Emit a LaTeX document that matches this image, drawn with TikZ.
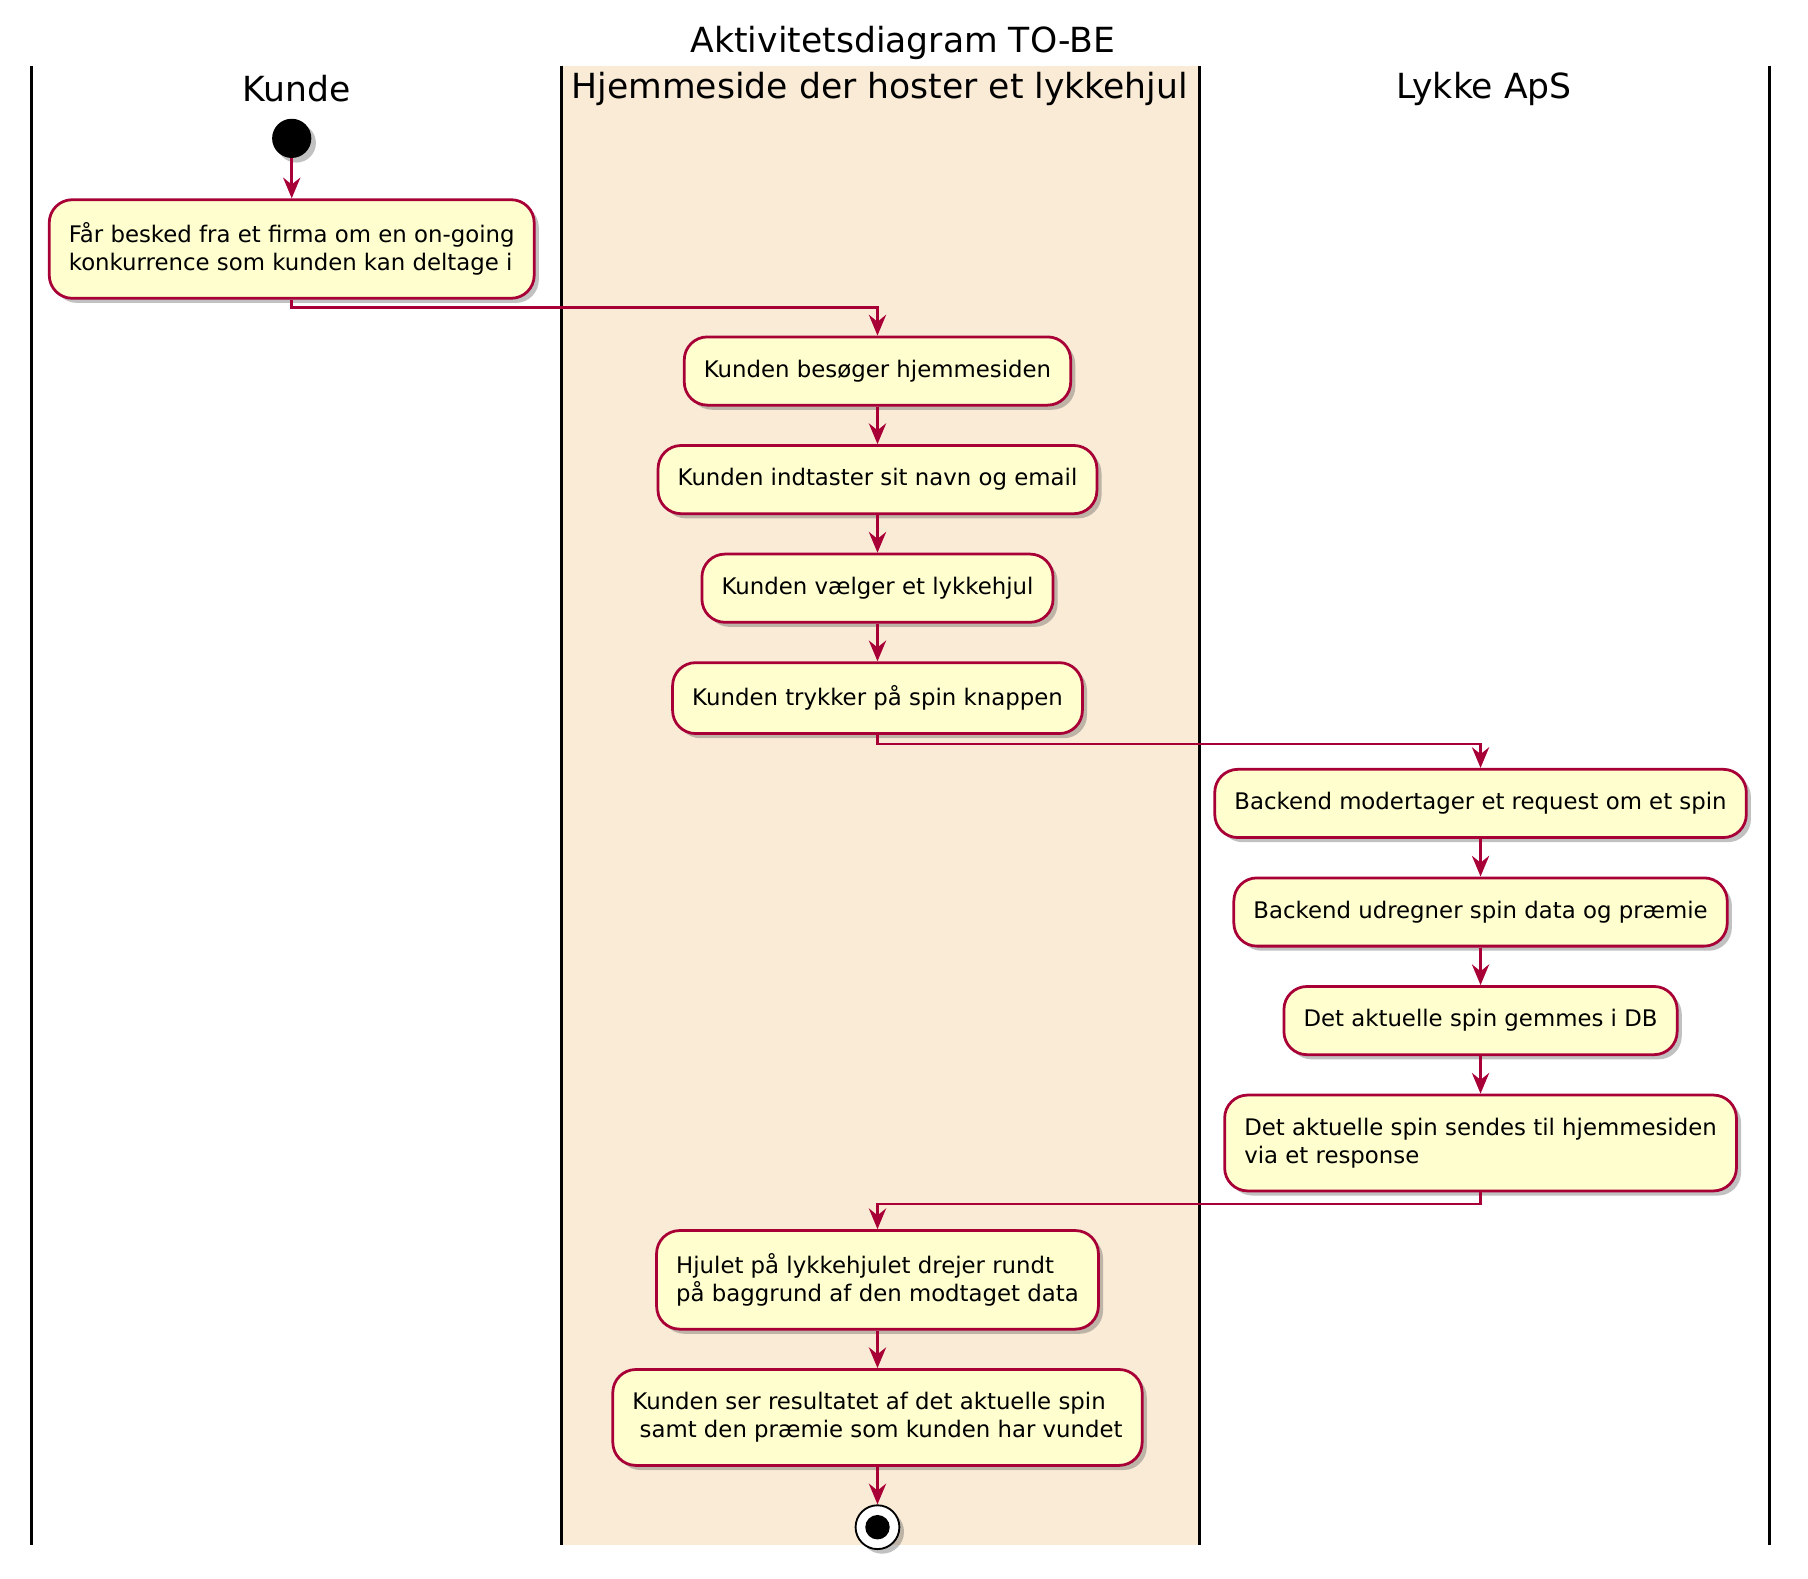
\documentclass[tikz,border=0pt]{standalone}
\usepackage{fontspec}
\setmainfont{DejaVu Sans}
\usetikzlibrary{positioning,shadows,arrows.meta}
\definecolor{umlred}{HTML}{A80036}
\definecolor{umlfill}{HTML}{FEFECE}
\definecolor{lanefill}{HTML}{FAEBD7}
\tikzset{
  activity/.style={draw=umlred, fill=umlfill, line width=1.2pt, rounded corners=10pt,
    align=left, inner xsep=8.5pt, inner ysep=10pt, minimum height=29.5pt,
    font=\fontsize{9.9}{12}\selectfont,
    drop shadow={shadow xshift=2pt, shadow yshift=-2pt, opacity=0.35, fill=black!70}},
  flow/.style={draw=umlred, line width=1.1pt, -{Stealth[length=9pt,width=7.5pt,inset=3pt]}},
  lane/.style={line width=1.3pt},
  lanehead/.style={font=\fontsize{15}{17}\selectfont},
  startnode/.style={circle, fill=black, minimum size=17pt, inner sep=0pt,
    drop shadow={shadow xshift=2pt, shadow yshift=-2pt, opacity=0.35, fill=black!70}},
  endnode/.style={circle, draw=black, line width=0.8pt, fill=white, minimum size=19pt, inner sep=0pt,
    path picture={\fill[black] (path picture bounding box.center) circle (5.3pt);},
    drop shadow={shadow xshift=2pt, shadow yshift=-2pt, opacity=0.35, fill=black!70}}
}
\begin{document}
\begin{tikzpicture}[x=0.5pt, y=-0.5pt, node distance=16.3pt]
  \useasboundingbox (0,0) rectangle (1568,1369.4);
  \fill[lanefill] (487,57) rectangle (1040,1340);
  \foreach \x in {27,487,1040,1535}
    \draw[lane] (\x,57) -- (\x,1340);
  \node[lanehead] (title) at (783,37) {Aktivitetsdiagram TO-BE};
  \node[lanehead] (hkunde) at (257,77) {Kunde};
  \node[lanehead] (hside) at (763,77) {Hjemmeside der hoster et lykkehjul};
  \node[lanehead] (hlykke) at (1287,77) {Lykke ApS};

  \node[startnode] (start) at (253,120) {};
  \node[activity, below=17.3pt of start] (besked) {Får besked fra et firma om en on-going\\konkurrence som kunden kan deltage i};

  \node[activity, anchor=north] (besoeg) at (761,291) {Kunden besøger hjemmesiden};
  \node[activity, below=of besoeg] (indtast) {Kunden indtaster sit navn og email};
  \node[activity, below=of indtast] (vaelg) {Kunden vælger et lykkehjul};
  \node[activity, below=of vaelg] (tryk) {Kunden trykker på spin knappen};

  \node[activity, anchor=north] (modtag) at (1284,666) {Backend modertager et request om et spin};
  \node[activity, below=of modtag] (udregn) {Backend udregner spin data og præmie};
  \node[activity, below=of udregn] (gem) {Det aktuelle spin gemmes i DB};
  \node[activity, below=of gem] (send) {Det aktuelle spin sendes til hjemmesiden\\via et response};

  \node[activity, anchor=north] (hjul) at (761,1066) {Hjulet på lykkehjulet drejer rundt\\på baggrund af den modtaget data};
  \node[activity, below=of hjul] (resultat) {Kunden ser resultatet af det aktuelle spin\\\ samt den præmie som kunden har vundet};
  \node[endnode, below=of resultat] (slut) {};

  \draw[flow] (start) -- (besked);
  \draw[flow] (besked.south) -- ++(0,7) -| (besoeg.north);
  \draw[flow] (besoeg) -- (indtast);
  \draw[flow] (indtast) -- (vaelg);
  \draw[flow] (vaelg) -- (tryk);
  \draw[flow] (tryk.south) -- ++(0,8) -| (modtag.north);
  \draw[flow] (modtag) -- (udregn);
  \draw[flow] (udregn) -- (gem);
  \draw[flow] (gem) -- (send);
  \draw[flow] (send.south) -- ++(0,10) -| (hjul.north);
  \draw[flow] (hjul) -- (resultat);
  \draw[flow] (resultat) -- (slut);
\end{tikzpicture}
\end{document}
